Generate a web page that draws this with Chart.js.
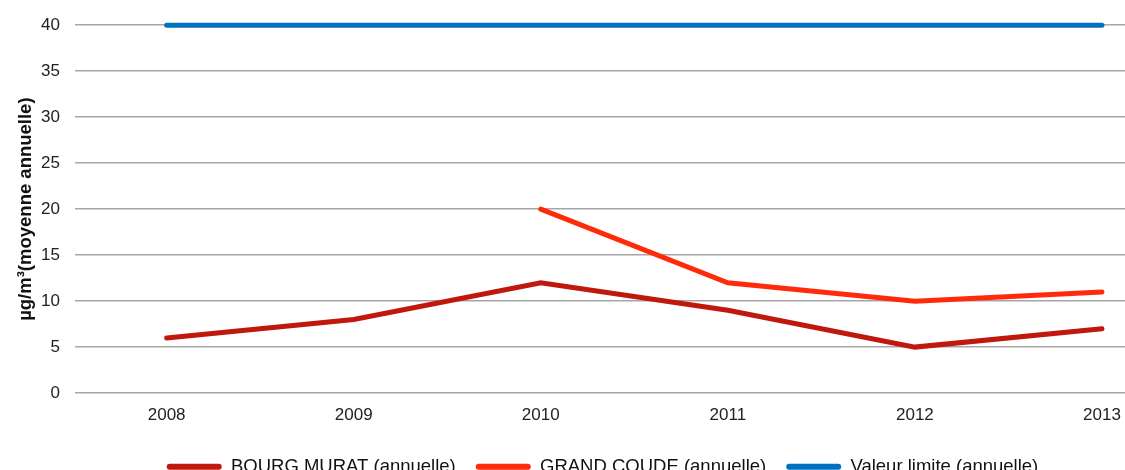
<!DOCTYPE html>
<html>
<head>
<meta charset="utf-8">
<script src="https://cdn.jsdelivr.net/npm/chart.js@4/dist/chart.umd.min.js"></script>
<style>
  html, body { margin: 0; padding: 0; background: #fff; overflow: hidden; }
  #wrap { width: 1130px; height: 486px; position: relative; }
</style>
</head>
<body>
<div id="wrap"><canvas id="chart"></canvas></div>
<script>
const years = [2008, 2009, 2010, 2011, 2012, 2013];
const bourgMurat = [6, 8, 12, 9, 5, 7];
const grandCoude = [null, null, 20, 12, 10, 11];
const valeurLimite = [40, 40, 40, 40, 40, 40];
const yTicks = [0, 5, 10, 15, 20, 25, 30, 35, 40];

const toPoints = vals => years.map((y, i) => ({ x: y, y: vals[i] }));

function lineSet(label, vals, color) {
  return {
    label: label,
    data: toPoints(vals),
    borderColor: color,
    backgroundColor: color,
    borderWidth: 5,
    borderCapStyle: "round",
    pointRadius: 0,
    pointHoverRadius: 0,
    clip: false,
    spanGaps: false
  };
}

Chart.defaults.font.family = "'Liberation Sans', Arial, sans-serif";
Chart.defaults.color = "#222";

const defaultLabels = Chart.defaults.plugins.legend.labels.generateLabels;

new Chart(document.getElementById("chart"), {
  type: "line",
  data: {
    datasets: [
      lineSet("BOURG MURAT (annuelle)", bourgMurat, "#c0180c"),
      lineSet("GRAND COUDE (annuelle)", grandCoude, "#ff2a0a"),
      lineSet("Valeur limite (annuelle)", valeurLimite, "#0070c0")
    ]
  },
  options: {
    responsive: true,
    maintainAspectRatio: false,
    animation: false,
    layout: { padding: { top: 14, right: 0, left: 0, bottom: 0 } },
    plugins: {
      tooltip: { enabled: false },
      legend: {
        position: "bottom",
        fullSize: false,
        labels: {
          boxWidth: 55,
          boxHeight: 6,
          padding: 20,
          color: "#111",
          font: { size: 18.5 },
          useBorderRadius: true,
          borderRadius: 3,
          generateLabels: chart => defaultLabels(chart).map(l => {
            l.lineWidth = 0;
            return l;
          })
        }
      }
    },
    scales: {
      x: {
        type: "linear",
        min: 2007.51,
        max: 2013.15,
        afterBuildTicks: scale => { scale.ticks = years.map(v => ({ value: v })); },
        afterFit: scale => { scale.height += 8; },
        grid: { display: false },
        border: { display: false },
        ticks: {
          font: { size: 17 },
          padding: 4,
          maxRotation: 0,
          callback: v => String(v)
        }
      },
      y: {
        min: 0,
        max: 40,
        afterBuildTicks: scale => { scale.ticks = yTicks.map(v => ({ value: v })); },
        afterFit: scale => { scale.width = 75; },
        grid: { color: "#a6a6a6", lineWidth: 1.5, drawTicks: false },
        border: { display: false },
        ticks: { font: { size: 17 }, padding: 15 },
        title: {
          display: true,
          text: "µg/m³(moyenne annuelle)",
          color: "#111",
          font: { size: 18.5, weight: "bold" },
          padding: { top: 15, bottom: 0 }
        }
      }
    }
  }
});
</script>
</body>
</html>
